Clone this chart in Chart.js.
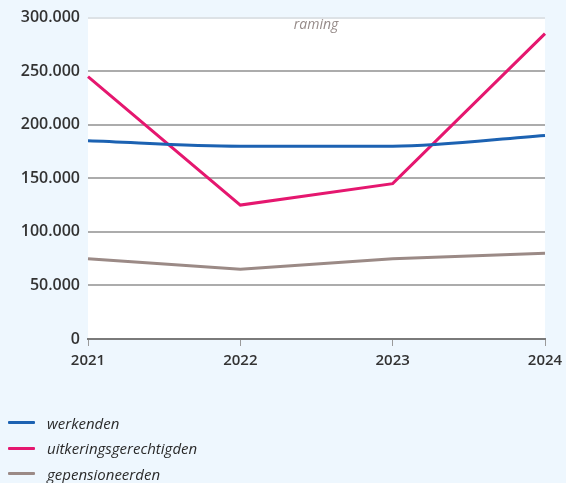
<!DOCTYPE html>
<html>
<head>
<meta charset="utf-8">
<script src="https://cdn.jsdelivr.net/npm/chart.js@4"></script>
<style>
  html, body { margin: 0; padding: 0; background: #eef7fe; }
  #wrap { position: relative; width: 566px; height: 483px; }
  #legend { position: absolute; left: 8px; top: 410px; font-family: "Open Sans", sans-serif; font-style: italic; font-size: 15px; color: #2b2b2b; }
  #legend div { height: 25.5px; display: flex; align-items: center; }
  #legend span.sw { display: inline-block; width: 27px; height: 3px; margin-right: 12px; border-radius: 1px; }
</style>
</head>
<body>
<div id="wrap">
  <canvas id="myChart" width="566" height="483"></canvas>
  <div id="legend"></div>
</div>
<script>
const years = ['2021', '2022', '2023', '2024'];
const werkenden = [185000, 180000, 180000, 190000];
const uitkeringsgerechtigden = [245000, 125000, 145000, 285000];
const gepensioneerden = [75000, 65000, 75000, 80000];
const yTicks = [0, 50000, 100000, 150000, 200000, 250000, 300000];

const series = [
  { label: 'werkenden', data: werkenden, color: '#1c62b2', mono: true },
  { label: 'uitkeringsgerechtigden', data: uitkeringsgerechtigden, color: '#e5176f' },
  { label: 'gepensioneerden', data: gepensioneerden, color: '#9b8a86' }
];

const fmt = v => String(v).replace(/\B(?=(\d{3})+(?!\d))/g, '.');

// white plot area
const plotBg = {
  id: 'plotBg',
  beforeDraw(chart) {
    const a = chart.chartArea;
    chart.ctx.save();
    chart.ctx.fillStyle = '#ffffff';
    chart.ctx.fillRect(a.left, a.top, a.right - a.left, a.bottom - a.top);
    chart.ctx.restore();
  }
};

// "raming" label above the plot
const ramingLabel = {
  id: 'raming',
  afterDraw(chart) {
    const c = chart.ctx;
    const a = chart.chartArea;
    c.save();
    c.font = 'italic 14px "Open Sans", sans-serif';
    c.fillStyle = '#968b89';
    c.textAlign = 'center';
    c.textBaseline = 'middle';
    c.fillText('raming', a.left + (a.right - a.left) * 0.499, a.top + 7);
    c.restore();
  }
};

new Chart(document.getElementById('myChart'), {
  type: 'line',
  data: {
    labels: years,
    datasets: series.map(s => ({
      label: s.label,
      data: s.data,
      borderColor: s.color,
      backgroundColor: s.color,
      borderWidth: 3,
      pointRadius: 0,
      fill: false,
      cubicInterpolationMode: s.mono ? 'monotone' : 'default'
    }))
  },
  options: {
    responsive: false,
    animation: false,
    layout: { padding: { left: 0, right: 21, top: 16, bottom: 114 } },
    plugins: { legend: { display: false }, tooltip: { enabled: false } },
    scales: {
      x: {
        offset: false,
        grid: { drawOnChartArea: false, drawTicks: true, tickLength: 7, color: '#9a9a9a', lineWidth: 1 },
        border: { display: true, color: '#7a7a7a', width: 2 },
        ticks: { color: '#333', padding: 6, maxRotation: 0, font: { family: 'Open Sans', size: 15, weight: 600 } },
        afterFit(scale) { scale.height = 30; scale.paddingLeft = 0; scale.paddingRight = 0; }
      },
      y: {
        min: 0,
        max: 300000,
        afterBuildTicks(scale) { scale.ticks = yTicks.map(v => ({ value: v })); },
        grid: {
          drawTicks: false,
          color: ctx => ctx.tick.value === 300000 ? '#dde2e6' : (ctx.tick.value === 0 ? 'rgba(0,0,0,0)' : '#acacac'),
          lineWidth: 2
        },
        border: { display: false },
        ticks: { color: '#333', padding: 8, font: { family: 'Open Sans', size: 16, weight: 600 }, callback: v => fmt(v) },
        afterFit(scale) { scale.width = 88; }
      }
    }
  },
  plugins: [plotBg, ramingLabel]
});

const leg = document.getElementById('legend');
series.forEach(s => {
  const row = document.createElement('div');
  row.innerHTML = '<span class="sw" style="background:' + s.color + '"></span>' + s.label;
  leg.appendChild(row);
});
</script>
</body>
</html>
